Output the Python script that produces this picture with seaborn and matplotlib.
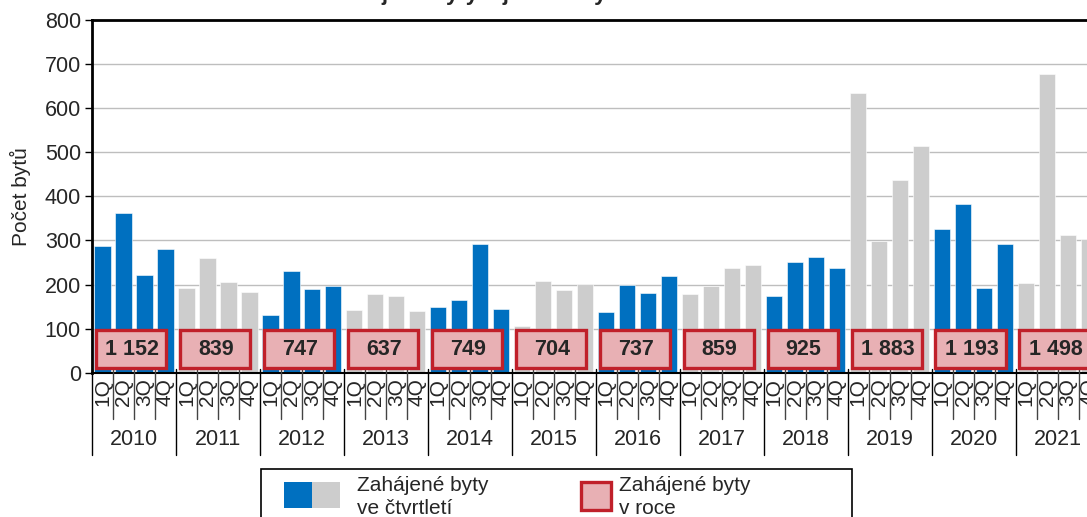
import numpy as np
import pandas as pd
import matplotlib
matplotlib.use("Agg")
import matplotlib.pyplot as plt
import seaborn as sns
from matplotlib.patches import Rectangle
from matplotlib.transforms import blended_transform_factory

# data
years = [2010, 2011, 2012, 2013, 2014, 2015, 2016, 2017, 2018, 2019, 2020, 2021]
quarters = ["1Q", "2Q", "3Q", "4Q"]
q_values = [
    287, 363, 222, 280,
    192, 260, 205, 182,
    131, 231, 189, 196,
    143, 178, 175, 141,
    150, 164, 291, 144,
    106, 209, 187, 202,
    137, 199, 181, 220,
    179, 197, 238, 245,
    174, 251, 263, 237,
    634, 298, 437, 514,
    325, 383, 193, 292,
    203, 678, 313, 304,
]
year_totals = ["1 152", "839", "747", "637", "749", "704", "737", "859", "925", "1 883", "1 193", "1 498"]

blue = "#0070C0"
grey = "#CDCDCD"
pink = "#E8B0B4"
red = "#C0202A"

sns.set_style("white")
plt.rcParams["font.family"] = ["Liberation Sans", "DejaVu Sans"]

df = pd.DataFrame({
    "label": [f"{y} {q}" for y in years for q in quarters],
    "value": q_values,
    "grp": ["b" if y % 2 == 0 else "g" for y in years for q in quarters],
})

fig = plt.figure(figsize=(10.87, 5.17), dpi=100)
W, H = 1087, 517
ax = fig.add_axes([92 / W, (H - 372.7) / H, 1007.6 / W, 352.7 / H])

ax.set_axisbelow(True)
ax.grid(axis="y", color="#BEBEBE", linewidth=1.0)
sns.barplot(data=df, x="label", y="value", hue="grp", palette={"b": blue, "g": grey},
            dodge=False, width=0.77, legend=False, order=df["label"], ax=ax,
            saturation=1, edgecolor="white", linewidth=0.4, zorder=2)

ax.set_xlim(-0.5, len(df) - 0.5)
ax.set_ylim(0, 800)
ax.set_yticks(range(0, 801, 100))
ax.tick_params(axis="y", labelsize=15.5, length=5, width=1, direction="out", left=True, color="black", pad=3)
ax.set_ylabel("Počet bytů", fontsize=15, labelpad=10)
ax.set_xlabel("")
for s in ["left", "top", "right"]:
    ax.spines[s].set_linewidth(2)
    ax.spines[s].set_color("black")
ax.spines["bottom"].set_linewidth(1.5)
ax.spines["bottom"].set_color("black")

# quarter labels
ax.set_xticks(range(len(df)))
ax.set_xticklabels(quarters * len(years), rotation=90, fontsize=15, va="top")
ax.tick_params(axis="x", length=0, pad=4)

# separators and year labels below the axis
trans = blended_transform_factory(ax.transData, ax.transAxes)
px = 1 / 352.7
for i in range(len(df) + 1):
    yearline = i % 4 == 0
    ax.plot([i - 0.5, i - 0.5], [4 * px, -(82 if yearline else 46) * px],
            transform=trans, color="black" if yearline else "#444444",
            linewidth=1.0, clip_on=False, zorder=5)
for k, y in enumerate(years):
    ax.text(4 * k + 1.5, -67 * px, str(y), transform=trans, ha="center", va="center",
            fontsize=15.5, clip_on=False)

# yearly totals in boxes
bw, bh = 70 / 20.99, 38 / 0.4409
for k, t in enumerate(year_totals):
    cx = 4 * k + 1.5 - 0.15
    ax.add_patch(Rectangle((cx - bw / 2, 54 - bh / 2), bw, bh, facecolor=pink,
                           edgecolor=red, linewidth=2.4, zorder=6, clip_on=False))
    ax.text(cx + 0.05, 52, t, ha="center", va="center", fontsize=15.5, fontweight="bold",
            zorder=7)

# title (cut at top edge)
fig.text(0.535, 1.0, "Zahájené byty v jednotlivých čtvrtletích a letech",
         ha="center", va="baseline", fontsize=16, fontweight="bold")

# legend drawn by hand
def fx(x):
    return x / W

def fy(y):
    return 1 - y / H

fig.add_artist(Rectangle((fx(261), fy(560)), fx(852) - fx(261), fy(469) - fy(560),
                         transform=fig.transFigure, facecolor="white", edgecolor="black",
                         linewidth=1.2))
fig.add_artist(Rectangle((fx(284), fy(508)), fx(312) - fx(284), fy(482) - fy(508),
                         transform=fig.transFigure, facecolor=blue, edgecolor="none"))
fig.add_artist(Rectangle((fx(312), fy(508)), fx(340) - fx(312), fy(482) - fy(508),
                         transform=fig.transFigure, facecolor=grey, edgecolor="none"))
fig.add_artist(Rectangle((fx(580.5), fy(509.5)), fx(610.5) - fx(580.5), fy(481.5) - fy(509.5),
                         transform=fig.transFigure, facecolor=pink, edgecolor=red, linewidth=2.4))
fig.text(fx(357), fy(491), "Zahájené byty", fontsize=15, va="baseline")
fig.text(fx(357), fy(514), "ve čtvrtletí", fontsize=15, va="baseline")
fig.text(fx(619), fy(491), "Zahájené byty", fontsize=15, va="baseline")
fig.text(fx(619), fy(514), "v roce", fontsize=15, va="baseline")

fig.savefig("out.png", dpi=100)
